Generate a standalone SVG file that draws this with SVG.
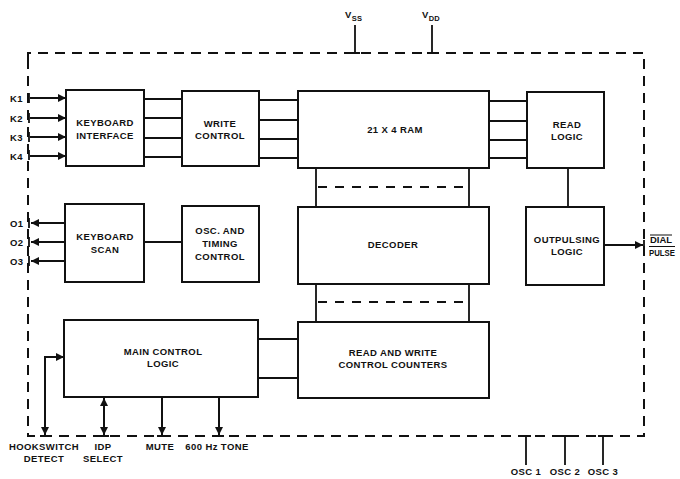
<svg xmlns="http://www.w3.org/2000/svg" width="680" height="479" viewBox="0 0 680 479">
<defs>
<marker id="ah" viewBox="0 0 10 10" refX="10" refY="5" markerWidth="9" markerHeight="8" markerUnits="userSpaceOnUse" orient="auto-start-reverse">
<path d="M0,0 L10,5 L0,10 Z" fill="#111"/>
</marker>
<style>
.box{fill:#fff;stroke:#111;stroke-width:2}
.ln{fill:none;stroke:#111;stroke-width:1.8}
.ar{fill:none;stroke:#111;stroke-width:2;marker-end:url(#ah)}
.ar2{fill:none;stroke:#111;stroke-width:2;marker-end:url(#ah);marker-start:url(#ah)}
.dash{fill:none;stroke:#111;stroke-width:2;stroke-dasharray:10 7}
.idash{fill:none;stroke:#111;stroke-width:2;stroke-dasharray:9 8}
.t{font-family:"Liberation Sans",Arial,sans-serif;font-weight:bold;font-size:9.5px;fill:#111;text-anchor:middle;letter-spacing:0.4px}
.p{font-family:"Liberation Sans",Arial,sans-serif;font-weight:bold;font-size:9.5px;fill:#111;letter-spacing:0.3px}
.q{font-family:"Liberation Sans",Arial,sans-serif;font-weight:bold;font-size:9px;fill:#111}
</style>
</defs>
<rect width="680" height="479" fill="#fff"/>

<g id="border">
<path class="dash" d="M28,60 L28,53 L644,53 L644,436 L28,436 L28,60"/>
</g>

<g id="connectors">
<path class="ln" d="M29,93 V103 M29,113 V123 M29,132 V142 M29,150 V160 M29,218 V228 M29,237 V247 M29,256 V266 M350,53 H360 M427,53 H437 M40,436 H50 M99,436 H109 M157,436 H167 M214,436 H224 M521,436 H531 M560,436 H570 M598,436 H608 M644,240 V250"/>
<path class="ar" d="M30,98 H66"/>
<path class="ar" d="M30,118 H66"/>
<path class="ar" d="M30,137 H66"/>
<path class="ar" d="M30,156 H66"/>
<path class="ar" d="M65,223 H31"/>
<path class="ar" d="M65,242 H31"/>
<path class="ar" d="M65,261 H31"/>
<path class="ln" d="M144,99 H182 M144,118 H182 M144,138 H182 M144,157 H182"/>
<path class="ln" d="M259,100 H298 M259,120 H298 M259,139 H298 M259,158 H298"/>
<path class="ln" d="M489,101 H527 M489,121 H527 M489,140 H527 M489,158 H527"/>
<path class="ln" d="M144,242 H182"/>
<path class="ln" d="M316,168 V207 M469,168 V207 M316,284 V322 M469,284 V322"/>
<path class="idash" d="M318,187 H466"/>
<path class="idash" d="M318,302 H466"/>
<path class="ln" d="M568,168 V207"/>
<path class="ar" d="M604,245 H643"/>
<path class="ln" d="M258,339 H298 M258,378 H298"/>
<path class="ar2" d="M64,357 H45 V435"/>
<path class="ar2" d="M104,398 V435"/>
<path class="ar" d="M162,397 V435"/>
<path class="ar" d="M219,397 V435"/>
<path class="ln" d="M355,25 V53 M432,25 V53"/>
<path class="ln" d="M526,436 V465 M565,436 V465 M603,436 V465"/>
</g>

<g id="keyboard-interface">
<rect class="box" x="66" y="90" width="78" height="76"/>
<text class="t" x="105" y="126">KEYBOARD</text>
<text class="t" x="105" y="139">INTERFACE</text>
</g>
<g id="write-control">
<rect class="box" x="182" y="91" width="77" height="75"/>
<text class="t" x="220" y="127">WRITE</text>
<text class="t" x="220" y="139">CONTROL</text>
</g>
<g id="ram">
<rect class="box" x="298" y="91" width="191" height="77"/>
<text class="t" x="395" y="133">21 X 4 RAM</text>
</g>
<g id="read-logic">
<rect class="box" x="527" y="92" width="77" height="76"/>
<text class="t" x="567" y="128">READ</text>
<text class="t" x="567" y="140">LOGIC</text>
</g>
<g id="keyboard-scan">
<rect class="box" x="65" y="204" width="79" height="78"/>
<text class="t" x="105" y="240">KEYBOARD</text>
<text class="t" x="105" y="253">SCAN</text>
</g>
<g id="osc-timing">
<rect class="box" x="182" y="206" width="77" height="76"/>
<text class="t" x="220" y="234">OSC. AND</text>
<text class="t" x="220" y="247">TIMING</text>
<text class="t" x="220" y="260">CONTROL</text>
</g>
<g id="decoder">
<rect class="box" x="298" y="207" width="191" height="77"/>
<text class="t" x="393" y="248">DECODER</text>
</g>
<g id="outpulsing-logic">
<rect class="box" x="526" y="207" width="78" height="78"/>
<text class="t" x="567" y="243">OUTPULSING</text>
<text class="t" x="567" y="255">LOGIC</text>
</g>
<g id="main-control-logic">
<rect class="box" x="64" y="320" width="194" height="77"/>
<text class="t" x="163" y="355">MAIN CONTROL</text>
<text class="t" x="163" y="367">LOGIC</text>
</g>
<g id="rw-counters">
<rect class="box" x="298" y="322" width="191" height="76"/>
<text class="t" x="393" y="356">READ AND WRITE</text>
<text class="t" x="393" y="368">CONTROL COUNTERS</text>
</g>

<g id="pin-labels">
<text class="p" x="10" y="102">K1</text>
<text class="p" x="10" y="122">K2</text>
<text class="p" x="10" y="141">K3</text>
<text class="p" x="10" y="160">K4</text>
<text class="p" x="10" y="227">O1</text>
<text class="p" x="10" y="246">O2</text>
<text class="p" x="10" y="265">O3</text>
<text class="q" x="650" y="243" textLength="22" lengthAdjust="spacingAndGlyphs">DIAL</text>
<text class="q" x="649" y="256" textLength="26" lengthAdjust="spacingAndGlyphs">PULSE</text>
<path d="M650,235 H672 M649,246.5 H675" stroke="#111" stroke-width="1"/>
<text class="p" x="345" y="18">V<tspan font-size="7.5px" dy="3">SS</tspan></text>
<text class="p" x="422" y="18">V<tspan font-size="7.5px" dy="3">DD</tspan></text>
<text class="t" x="44" y="450">HOOKSWITCH</text>
<text class="t" x="44" y="462">DETECT</text>
<text class="t" x="103" y="450">IDP</text>
<text class="t" x="103" y="462">SELECT</text>
<text class="t" x="160" y="450">MUTE</text>
<text class="t" x="217" y="450">600 Hz TONE</text>
<text class="t" x="526" y="475">OSC 1</text>
<text class="t" x="565" y="475">OSC 2</text>
<text class="t" x="603" y="475">OSC 3</text>
</g>
</svg>
